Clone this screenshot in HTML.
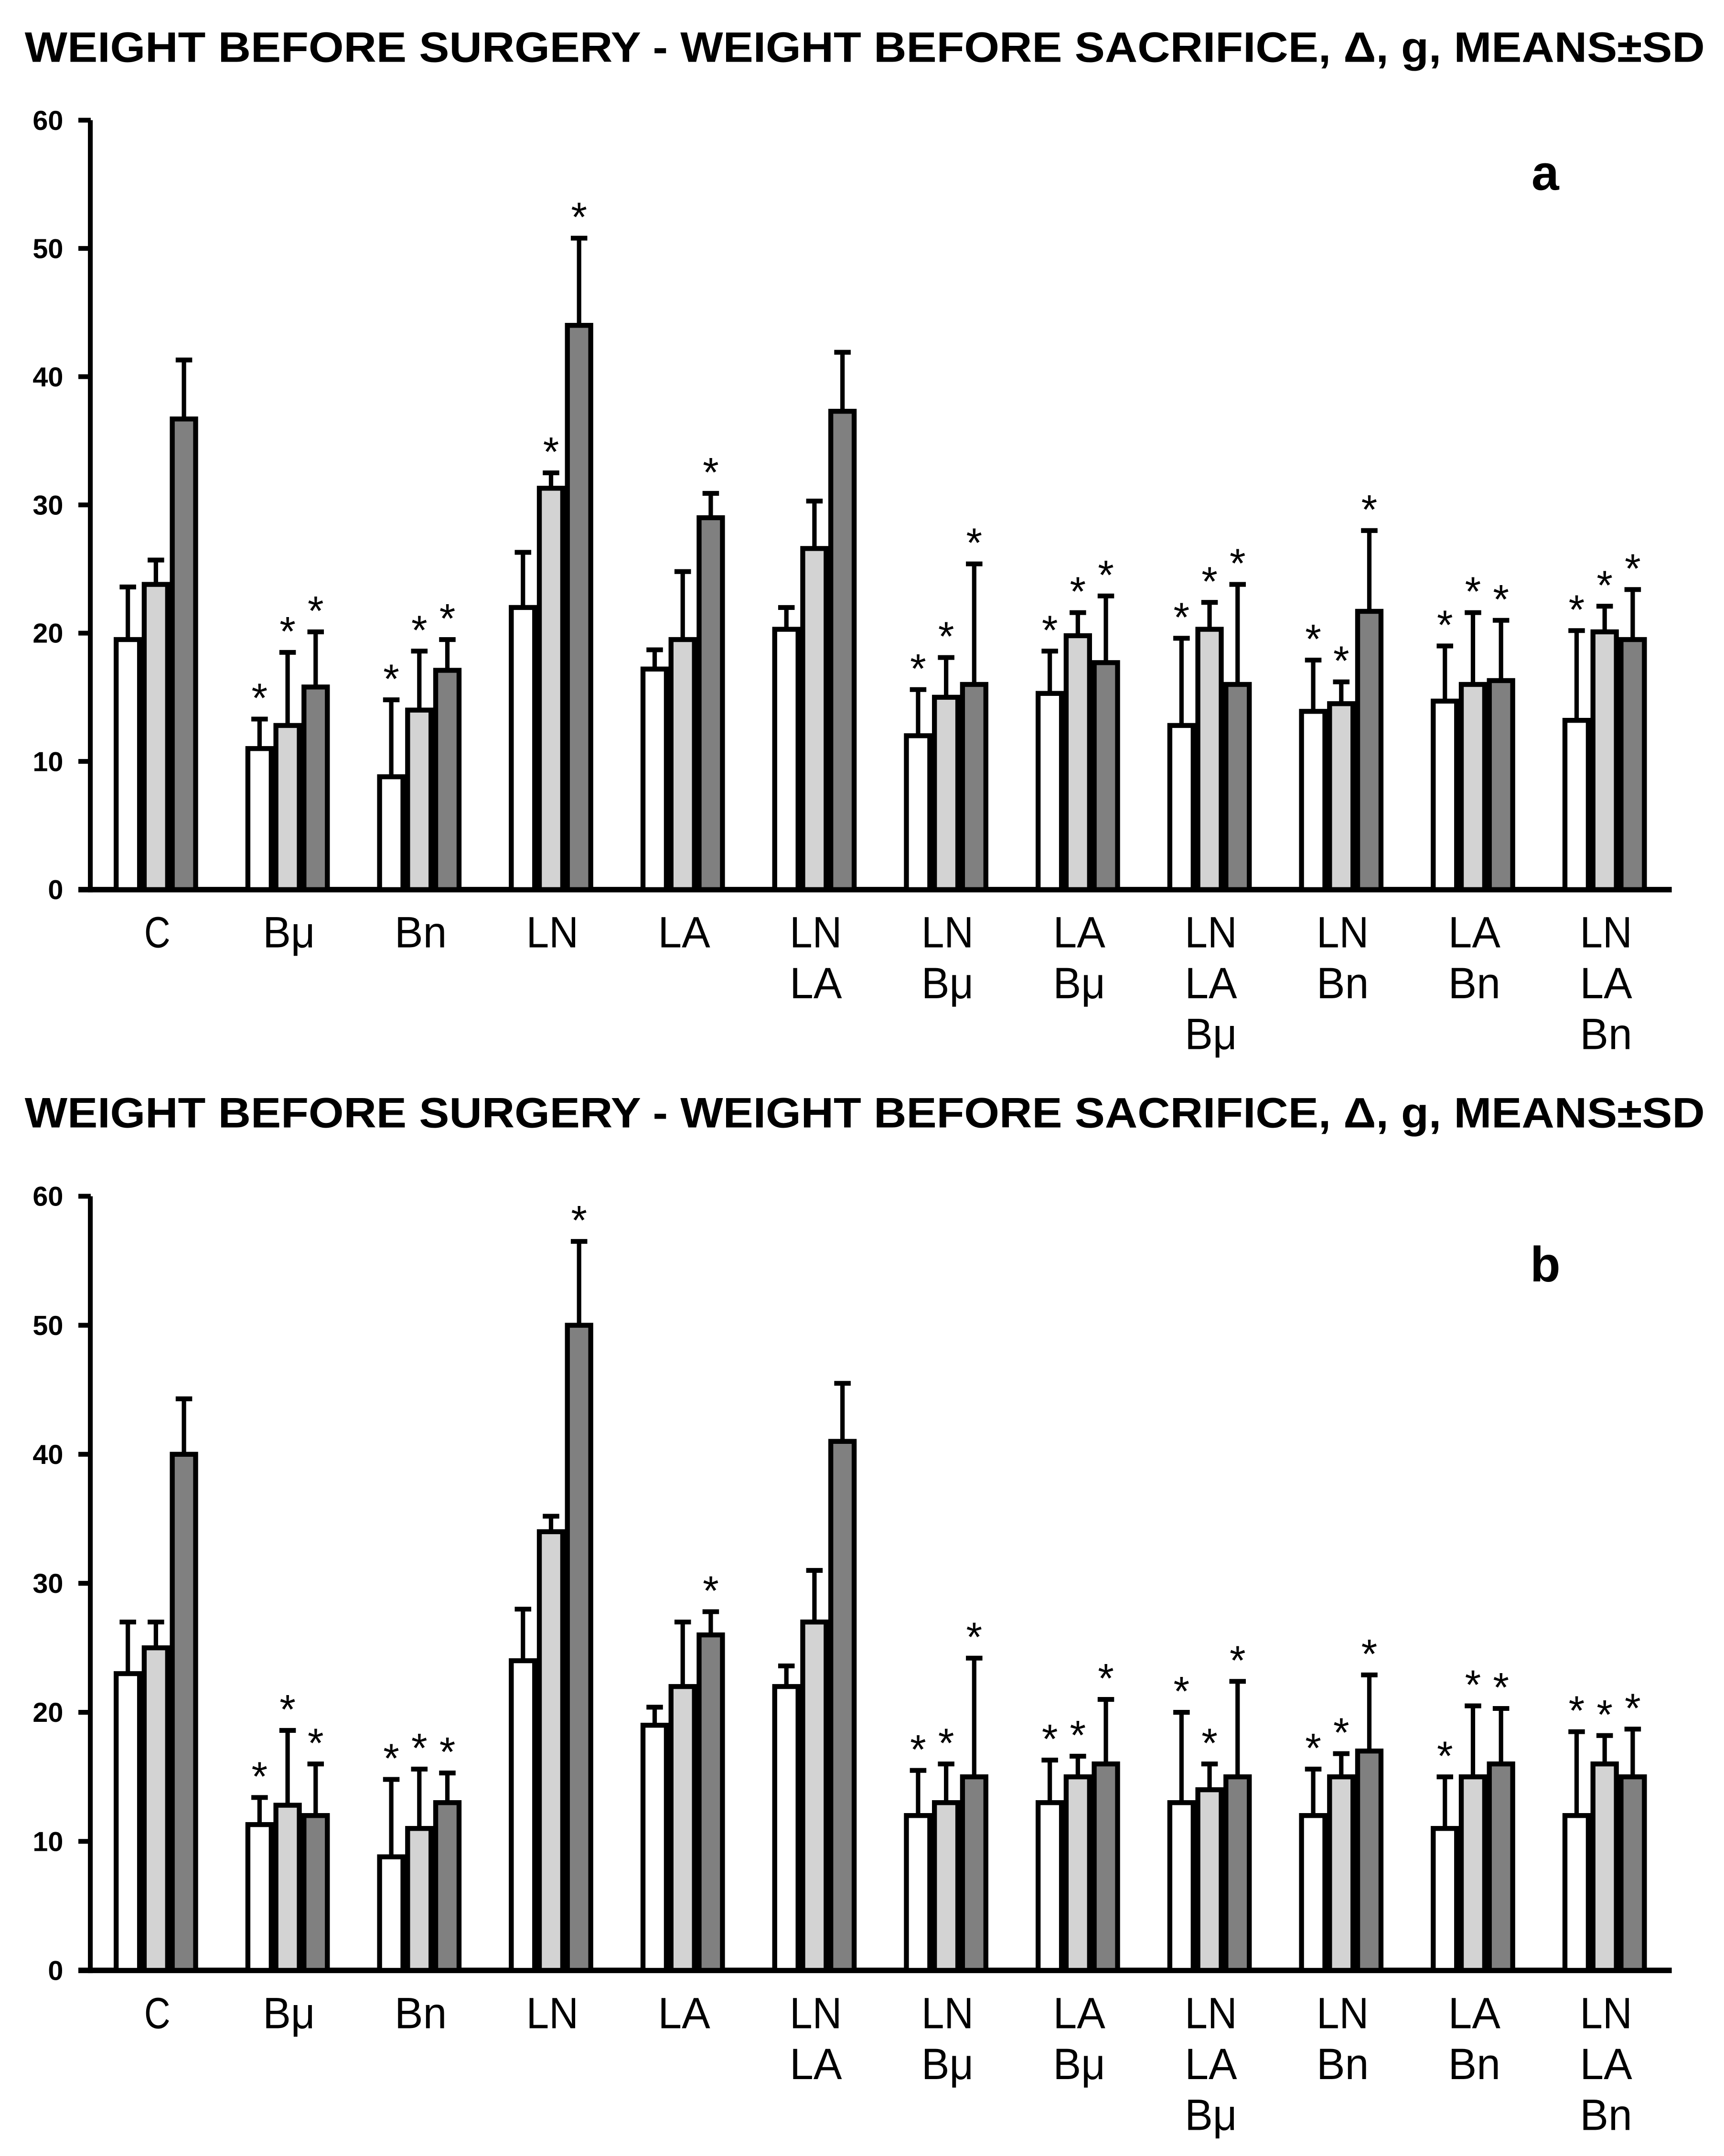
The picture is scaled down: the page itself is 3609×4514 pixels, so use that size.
<!DOCTYPE html>
<html><head><meta charset="utf-8">
<style>
html,body{margin:0;padding:0;background:#fff;}
svg{display:block;}
text{font-family:"Liberation Sans",sans-serif;fill:#000;}
</style></head>
<body>
<svg id="chart" width="3609" height="4514" viewBox="0 0 1254 1568" preserveAspectRatio="none" xmlns="http://www.w3.org/2000/svg"></svg>
<script>
const categories = [["C"],["Bμ"],["Bn"],["LN"],["LA"],["LN","LA"],["LN","Bμ"],["LA","Bμ"],["LN","LA","Bμ"],["LN","Bn"],["LA","Bn"],["LN","LA","Bn"]];
const yTicks = [0,10,20,30,40,50,60];
const aWhite = [19.5,11.0,8.8,22,17.2,20.3,12,15.3,12.8,13.9,14.7,13.2];
const aWhiteSd = [23.6,13.3,14.8,26.3,18.7,22,15.6,18.6,19.6,17.9,19,20.2];
const aLight = [23.8,12.8,14.0,31.3,19.5,26.6,15,19.8,20.3,14.5,16,20.1];
const aLightSd = [25.7,18.5,18.6,32.5,24.8,30.3,18.1,21.6,22.4,16.2,21.6,22.1];
const aDark = [36.7,15.8,17.1,44,29,37.3,16,17.7,16,21.7,16.3,19.5];
const aDarkSd = [41.3,20.1,19.5,50.8,30.9,41.9,25.4,22.9,23.8,28,21,23.4];
const aStarWhite = [0,1,1,0,0,0,1,1,1,1,1,1];
const aStarLight = [0,1,1,1,0,0,1,1,1,1,1,1];
const aStarDark = [0,1,1,1,1,0,1,1,1,1,1,1];
const bWhite = [23,11.3,8.8,24,19,22,12,13,13,12,11,12];
const bWhiteSd = [27,13.4,14.8,28,20.4,23.6,15.5,16.3,20,15.6,15,18.5];
const bLight = [25,12.8,11,34,22,27,13,15,14,15,15,16];
const bLightSd = [27,18.6,15.6,35.2,27,31,16,16.6,16,16.8,20.5,18.2];
const bDark = [40,12,13,50,26,41,15,16,15,17,16,15];
const bDarkSd = [44.3,16,15.3,56.5,27.8,45.5,24.2,21,22.4,22.9,20.3,18.7];
const bStarWhite = [0,1,1,0,0,0,1,1,1,1,1,1];
const bStarLight = [0,1,1,0,0,0,1,1,1,1,1,1];
const bStarDark = [0,1,1,1,1,0,1,1,1,1,1,1];

const NS="http://www.w3.org/2000/svg";
const svg=document.getElementById('chart');
function mk(tag,attrs,parent){const e=document.createElementNS(NS,tag);for(const k in attrs)e.setAttribute(k,attrs[k]);(parent||svg).appendChild(e);return e;}

function panel(key,y0,y60,titleY,letter,letterY,series){
  const g=mk('g',{});
  
  
  const yS=v=>y0+(y60-y0)*v/60;
  const xC=i=>113.4+95.8*i;
  const t=mk('text',{x:18,y:titleY,'font-size':31,'font-weight':'bold',textLength:1222,lengthAdjust:'spacingAndGlyphs'},g);
  t.textContent='WEIGHT BEFORE SURGERY - WEIGHT BEFORE SACRIFICE, Δ, g, MEANS±SD';
  
  
  const lt=mk('text',{x:1124,y:letterY,'font-size':36,'font-weight':'bold','text-anchor':'middle'},g);
  lt.textContent=letter;
  
  
  const ya=mk('line',{x1:65.7,y1:yS(60),x2:65.7,y2:y0+2,stroke:'#000','stroke-width':3.5},g);
  
  
  const xa=mk('line',{x1:57,y1:y0,x2:1216,y2:y0,stroke:'#000','stroke-width':4},g);
  
  
  yTicks.forEach(v=>{
    const tk=mk('line',{x1:57,y1:yS(v),x2:66,y2:yS(v),stroke:'#000','stroke-width':3.5},g);
    
    
    const tl=mk('text',{x:46,y:yS(v)+7,'font-size':20,'font-weight':'bold','text-anchor':'end'},g);
    tl.textContent=v;
    
    
  });
  const fills=['#ffffff','#d3d3d3','#808080'];
  const names=['white','light','dark'];
  const bw=20.4;
  categories.forEach((lines,i)=>{
    for(let s=0;s<3;s++){
      const v=series[s][0][i], sd=series[s][1][i], st=series[s][2][i];
      const cx=xC(i)+(s-1)*bw;
      const eb=mk('line',{x1:cx,y1:yS(v),x2:cx,y2:yS(sd),stroke:'#000','stroke-width':3.2},g);
      
      
      const cap=mk('line',{x1:cx-6,y1:yS(sd),x2:cx+6,y2:yS(sd),stroke:'#000','stroke-width':3.5},g);
      
      
      const r=mk('rect',{x:cx-bw/2+1.7,y:yS(v),width:bw-3.4,height:y0-yS(v),fill:fills[s],stroke:'#000','stroke-width':3.6},g);
      
      
      if(st){
        const a=mk('text',{x:cx,y:yS(sd)-5,'font-size':30,'text-anchor':'middle'},g);
        a.textContent='*';
        
        
      }
    }
    lines.forEach((ln,j)=>{
      const cl=mk('text',{x:xC(i)+1,y:y0+42+37*j,'font-size':32,'text-anchor':'middle',textLength:ln.length*19,lengthAdjust:'spacingAndGlyphs'},g);
      cl.textContent=ln;
      
      
    });
  });
}
panel('a',647,87.4,45,'a',138,[[aWhite,aWhiteSd,aStarWhite],[aLight,aLightSd,aStarLight],[aDark,aDarkSd,aStarDark]]);
panel('b',1433,870,820,'b',932,[[bWhite,bWhiteSd,bStarWhite],[bLight,bLightSd,bStarLight],[bDark,bDarkSd,bStarDark]]);
</script>
</body></html>
